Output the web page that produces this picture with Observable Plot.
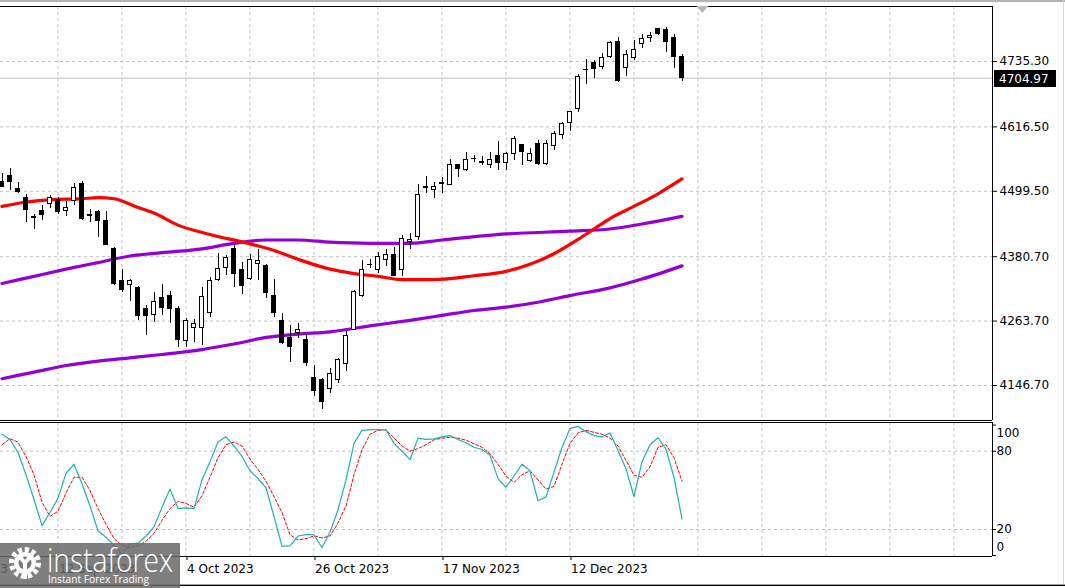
<!DOCTYPE html>
<html>
<head>
<meta charset="utf-8">
<script src="https://cdn.jsdelivr.net/npm/d3@7"></script>
<script src="https://cdn.jsdelivr.net/npm/@observablehq/plot@0.6"></script>
<style>
  html, body { margin: 0; padding: 0; background: #fff; }
  #wrap { position: relative; width: 1065px; height: 588px; overflow: hidden; background: #fff; font-family: "DejaVu Sans", sans-serif; }
  #main, #stoch { position: absolute; left: 0; }
  #main { top: 0; }
  #stoch { top: 421px; }
  #topband { position: absolute; left: 0; top: 0; width: 1065px; height: 2px; background: #b4b4b4; }
  #botline1 { position: absolute; left: 0; top: 584px; width: 1065px; height: 1px; background: #a0a0a0; }
  #botline2 { position: absolute; left: 0; top: 585px; width: 1065px; height: 1px; background: #000; }
  #rightline { position: absolute; left: 1063px; top: 0; width: 1px; height: 584px; background: #d8d8d8; }
  #logo { position: absolute; left: 0; top: 543px; }
</style>
</head>
<body>
<div id="wrap">
  <div id="topband"></div>
  <div id="main"></div>
  <div id="stoch"></div>
  <div id="rightline"></div>
  <div id="botline1"></div>
  <div id="botline2"></div>
  <svg id="logo" width="180" height="45" viewBox="0 0 180 45">
    <rect x="0" y="0" width="180" height="45" fill="rgb(105,105,105)" fill-opacity="0.85"></rect>
    <circle cx="25" cy="20" r="13.5" fill="none" stroke="#fff" stroke-width="5" stroke-dasharray="4.2,2.8"></circle>
    <circle cx="25" cy="20" r="11" fill="#fff"></circle>
    <circle cx="25" cy="20" r="6.5" fill="rgb(120,120,120)"></circle>
    <path d="M20 14 L25 20 L30 14 M25 20 L25 36" stroke="#fff" stroke-width="4" fill="none"></path>
    <text x="47" y="29" fill="#fff" font-family="Open Sans, sans-serif" font-weight="300" font-size="33" textLength="126" lengthAdjust="spacingAndGlyphs">instaforex</text>
    <text x="48" y="40" fill="#fff" font-family="Open Sans, sans-serif" font-size="10.5" textLength="101" lengthAdjust="spacingAndGlyphs">Instant Forex Trading</text>
  </svg>
</div>
<script>
// ---------- DATA ----------
const dates = ["2023-08-31","2023-09-01","2023-09-05","2023-09-06","2023-09-07","2023-09-08","2023-09-11","2023-09-12","2023-09-13","2023-09-14",
  "2023-09-15","2023-09-18","2023-09-19","2023-09-20","2023-09-21","2023-09-22","2023-09-25","2023-09-26","2023-09-27","2023-09-28",
  "2023-09-29","2023-10-02","2023-10-03","2023-10-04","2023-10-05","2023-10-06","2023-10-09","2023-10-10","2023-10-11","2023-10-12",
  "2023-10-13","2023-10-16","2023-10-17","2023-10-18","2023-10-19","2023-10-20","2023-10-23","2023-10-24","2023-10-25","2023-10-26",
  "2023-10-27","2023-10-30","2023-10-31","2023-11-01","2023-11-02","2023-11-03","2023-11-06","2023-11-07","2023-11-08","2023-11-09",
  "2023-11-10","2023-11-13","2023-11-14","2023-11-15","2023-11-16","2023-11-17","2023-11-20","2023-11-21","2023-11-22","2023-11-24",
  "2023-11-27","2023-11-28","2023-11-29","2023-11-30","2023-12-01","2023-12-04","2023-12-05","2023-12-06","2023-12-07","2023-12-08",
  "2023-12-11","2023-12-12","2023-12-13","2023-12-14","2023-12-15","2023-12-18","2023-12-19","2023-12-20","2023-12-21","2023-12-22",
  "2023-12-26","2023-12-27","2023-12-28","2023-12-29","2024-01-02","2024-01-03"];

const open = [4517,4527,4503,4488,4452,4463,4476,4483,4463,4482,
  4513,4457,4461,4446,4395,4336,4330,4324,4286,4275,
  4306,4310,4286,4228,4252,4251,4278,4338,4361,4395,
  4356,4341,4367,4363,4310,4263,4233,4242,4230,4160,
  4156,4141,4157,4185,4248,4310,4365,4356,4374,4383,
  4357,4407,4417,4505,4502,4515,4511,4548,4538,4558,
  4553,4548,4563,4550,4567,4583,4555,4586,4549,4581,
  4601,4624,4649,4719,4733,4726,4743,4771,4724,4742,
  4767,4778,4794,4793,4778,4744];
const high = [4532,4541,4515,4493,4458,4474,4491,4488,4481,4513,
  4518,4467,4465,4462,4397,4357,4340,4327,4292,4315,
  4331,4317,4290,4268,4267,4324,4342,4386,4382,4402,
  4371,4385,4394,4367,4340,4277,4256,4259,4240,4183,
  4160,4177,4195,4245,4320,4374,4375,4388,4394,4398,
  4419,4422,4512,4526,4516,4525,4558,4549,4570,4564,
  4563,4570,4590,4570,4599,4585,4578,4591,4591,4609,
  4624,4644,4711,4739,4738,4750,4772,4779,4756,4774,
  4785,4788,4796,4797,4784,4748];
const low = [4507,4501,4496,4442,4430,4446,4468,4457,4453,4474,
  4446,4442,4416,4401,4329,4316,4300,4265,4238,4262,
  4273,4260,4216,4216,4225,4219,4270,4335,4346,4325,
  4312,4338,4337,4304,4270,4222,4189,4232,4181,4127,
  4103,4133,4150,4172,4246,4307,4360,4351,4362,4344,
  4345,4393,4410,4496,4487,4496,4510,4525,4535,4551,
  4546,4540,4537,4537,4555,4546,4551,4546,4546,4574,
  4593,4608,4643,4694,4705,4720,4741,4697,4708,4737,
  4759,4769,4782,4752,4723,4699];
const close = [4508,4516,4498,4466,4451,4457,4488,4462,4469,4505,
  4450,4454,4445,4402,4331,4320,4337,4273,4273,4298,
  4288,4286,4229,4264,4258,4308,4336,4359,4378,4350,
  4327,4374,4373,4315,4278,4224,4217,4248,4187,4137,
  4117,4167,4193,4237,4317,4357,4366,4380,4384,4345,
  4413,4411,4492,4507,4508,4512,4548,4540,4557,4559,
  4551,4556,4551,4568,4594,4570,4567,4549,4586,4604,
  4622,4643,4707,4720,4721,4741,4768,4699,4748,4756,
  4776,4781,4786,4770,4743,4704.97];

// moving averages (bar index -> value)
const ma50Idx = [0,3,6,10,12,14,17,19,22,26,31,34,37,41,44,47,50,54,59,63,66,69,72,74,76,79,82,85];
const ma50    = [4472,4480,4484,4486,4488,4486,4470,4460,4438,4421,4404,4392,4376,4358,4350,4345,4339,4339,4346,4354,4367,4386,4412,4431,4450,4472,4495,4522];
const ma100Idx = [0,4,8,12,16,20,25,29,33,37,41,46,51,55,63,71,76,80,85];
const ma100    = [4332,4345,4358,4370,4382,4388,4395,4405,4411,4411,4407,4405,4405,4411,4422,4427,4431,4440,4454];
const ma200Idx = [0,4,8,12,16,20,25,29,33,37,41,46,51,55,59,63,67,71,76,80,85];
const ma200    = [4159,4171,4183,4191,4197,4203,4212,4222,4234,4240,4244,4255,4265,4274,4283,4289,4298,4310,4324,4340,4364];

// stochastic %K and %D
const stochK = [93,89,79,62,43,23,33,44,63,70,55,38,19,14,8,1,9,9.5,15,22,
  37,51,36,36.5,36,58,72,87,91,84,76,65,59,52,30,7,7.5,15,16,16,
  6,18,35,58,86,96,96.5,96.5,96.4,86,80,73.5,90,89,89.5,91,92,89,86.5,83,
  81.3,77,59,52.4,61,70,65,42,45,64,83,97.5,99,95,92,91,94,80.5,66.5,45.3,
  72,85,90.3,81.5,60,28];
const stochD = [85,89.5,87,76,62,41,30,34,48,60,60,50,36,24,13,8,6,7.5,11,17,
  27,36,41.5,40,37,46,60,75,85,87,84,74,66,57,45,33,16,12,13,15,
  13.5,15,25,38,62,81,93,96,96.4,90,84,80,82,85,88.7,90,90.7,90,88.5,85.7,
  83,78,70,61,56,62,65,58,51,53,70,86,94,96,94.5,93,90,84,73,61.5,
  60,68,83,85,75,57];

// axis ticks
const priceTicks = [4735.30, 4616.50, 4499.50, 4380.70, 4263.70, 4146.70];
const stochTicks = [100, 80, 20, 0];
const gridIdx = [7,15,23,31,39,47,55,63,71,79,87,95,103,111,119];
const dateTickIdx = [-9, 7, 23, 39, 55, 71];
const dateTickLabels = ["18 Aug 2023","12 Sep 2023","4 Oct 2023","26 Oct 2023","17 Nov 2023","12 Dec 2023"];
const lastPrice = 4704.97;

// ---------- BUILD ----------
const candles = dates.map((d, i) => ({i, date: d, o: open[i], h: high[i], l: low[i], c: close[i]}));
const toPts = (idx, vals) => idx.map((i, k) => ({i, v: vals[k]}));
const xDomain = [-0.1875, 123.8125];
const yMain = [4083.1, 4835.2];
const yStoch = [-0.7, 102];
const grid = {stroke: "#c0c0c0", strokeOpacity: 1, strokeDasharray: "3,3"};
const border = {stroke: "#000", strokeWidth: 1, shapeRendering: "crispEdges"};
const font = {fontFamily: "DejaVu Sans, sans-serif", fontSize: "12px", background: "transparent", color: "#000", overflow: "visible"};

const main = Plot.plot({
  width: 1065, height: 421,
  marginTop: 6, marginBottom: 1, marginLeft: 0, marginRight: 73,
  x: {domain: xDomain, axis: null},
  y: {domain: yMain, axis: null},
  style: font,
  marks: [
    Plot.gridY(priceTicks, grid),
    Plot.gridX(gridIdx, grid),
    Plot.ruleY([lastPrice], {stroke: "#c0c0c0"}),
    Plot.line(toPts(ma200Idx, ma200), {x: "i", y: "v", stroke: "#9400d3", strokeWidth: 3.2, curve: "monotone-x"}),
    Plot.line(toPts(ma100Idx, ma100), {x: "i", y: "v", stroke: "#9400d3", strokeWidth: 3.2, curve: "monotone-x"}),
    Plot.line(toPts(ma50Idx, ma50), {x: "i", y: "v", stroke: "#ff0000", strokeWidth: 3.2, curve: "monotone-x"}),
    Plot.ruleX(candles, {x: "i", y1: "l", y2: "h", stroke: "#000", strokeWidth: 1, shapeRendering: "crispEdges"}),
    Plot.rect(candles, {
      x1: d => d.i - 0.25, x2: d => d.i + 0.25,
      y1: d => Math.min(d.o, d.c), y2: d => Math.max(d.o, d.c) + (Math.abs(d.o - d.c) < 0.6 ? 0.6 : 0),
      fill: d => d.c >= d.o ? "#ffffff" : "#000000", stroke: "#000", strokeWidth: 1, shapeRendering: "crispEdges"
    }),
    Plot.axisY(priceTicks, {anchor: "right", label: null, tickFormat: d => d.toFixed(2), tickSize: 4, tickPadding: 3, stroke: "#000", fill: "#000"}),
    Plot.ruleY([yMain[1]], border),
    Plot.ruleY([yMain[0]], border),
    Plot.ruleX([xDomain[1]], border)
  ]
});
document.getElementById("main").appendChild(main);

// current price label and chart-shift marker, placed with the plot's own scales
{
  const svg = d3.select(main);
  const y = Math.round(main.scale("y").apply(lastPrice));
  const xr = main.scale("x").apply(xDomain[1]);
  const g = svg.append("g").attr("text-anchor", "start");
  g.append("rect").attr("x", xr + 2).attr("y", y - 8).attr("width", 62).attr("height", 17).attr("fill", "#000");
  g.append("text").attr("x", xr + 7).attr("y", y + 0.5).attr("dy", "0.35em").attr("text-anchor", "start")
    .attr("fill", "#fff").attr("font-family", "DejaVu Sans, sans-serif").attr("font-size", 12).text(lastPrice.toFixed(2));
  const xs = main.scale("x").apply(close.length - 1 + 2.6);
  g.append("path").attr("d", `M${xs - 6},6 L${xs + 6},6 L${xs},13 Z`).attr("fill", "#b8b8b8");
}

const stoch = Plot.plot({
  width: 1065, height: 167,
  marginTop: 1, marginBottom: 32, marginLeft: 0, marginRight: 73,
  x: {domain: xDomain, axis: null},
  y: {domain: yStoch, axis: null},
  style: font,
  marks: [
    Plot.gridY([80, 20], grid),
    Plot.gridX(gridIdx, grid),
    Plot.line(stochD.map((v, i) => ({i, v})), {x: "i", y: "v", stroke: "#ff0000", strokeWidth: 1, strokeDasharray: "3,2"}),
    Plot.line(stochK.map((v, i) => ({i, v})), {x: "i", y: "v", stroke: "#20b2aa", strokeWidth: 1.2}),
    Plot.axisY(stochTicks, {anchor: "right", label: null, tickSize: 3, tickFormat: () => "", stroke: "#000"}),
    Plot.text([100], {y: d => d, text: d => String(d), frameAnchor: "right", textAnchor: "start", dx: 4, dy: 8, fill: "#000"}),
    Plot.text([80, 20], {y: d => d, text: d => String(d), frameAnchor: "right", textAnchor: "start", dx: 4, fill: "#000"}),
    Plot.text([0], {y: d => d, text: d => String(d), frameAnchor: "right", textAnchor: "start", dx: 4, dy: -8, fill: "#000"}),
    Plot.axisX(dateTickIdx, {anchor: "bottom", label: null, tickSize: 4, tickPadding: 4, textAnchor: "start", dx: 1,
      tickFormat: i => dateTickLabels[dateTickIdx.indexOf(i)], stroke: "#000", fill: "#000"}),
    Plot.ruleY([yStoch[1]], border),
    Plot.ruleY([yStoch[0]], border),
    Plot.ruleX([xDomain[1]], border)
  ]
});
document.getElementById("stoch").appendChild(stoch);
</script>
</body>
</html>
